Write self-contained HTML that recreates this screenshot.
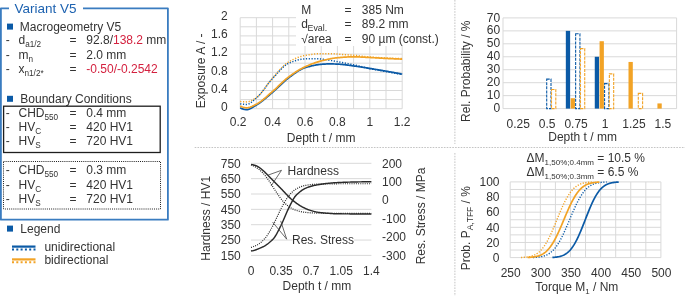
<!DOCTYPE html>
<html><head><meta charset="utf-8"><style>
html,body{margin:0;padding:0;background:#fff;}
body{width:685px;height:296px;overflow:hidden;}
svg{display:block;font-family:"Liberation Sans", sans-serif;will-change:transform;}
text{font-family:"Liberation Sans", sans-serif;}
</style></head><body>
<svg width="685" height="296" viewBox="0 0 685 296">
<path d="M9,8.3 H0.9 V219.7 H167.9 V8.3 H83" fill="none" stroke="#3a7cc0" stroke-width="1.8" stroke-linejoin="round"/>
<text x="14.60" y="12.50" font-size="13.5" text-anchor="start" fill="#1d62b0" >Variant V5</text>
<rect x="7" y="23.6" width="6" height="6" fill="#0b5aa6"/>
<text x="19.80" y="30.50" font-size="12" text-anchor="start" fill="#333333" >Macrogeometry V5</text>
<text x="5.80" y="44.30" font-size="12" text-anchor="start" fill="#333333" >-</text>
<text x="18.5" y="44.3" font-size="12" fill="#333333">d<tspan font-size="8.2" dy="3">a1/2</tspan></text>
<text x="69.50" y="44.30" font-size="12" text-anchor="start" fill="#333333" >=</text>
<text x="86.3" y="44.3" font-size="12" fill="#333333" xml:space="preserve"><tspan fill="#333333">92.8/</tspan><tspan fill="#d4213f">138.2</tspan><tspan fill="#333333"> mm</tspan></text>
<text x="5.80" y="58.50" font-size="12" text-anchor="start" fill="#333333" >-</text>
<text x="18.5" y="58.5" font-size="12" fill="#333333">m<tspan font-size="8.2" dy="3">n</tspan></text>
<text x="69.50" y="58.50" font-size="12" text-anchor="start" fill="#333333" >=</text>
<text x="86.3" y="58.5" font-size="12" fill="#333333" xml:space="preserve"><tspan fill="#333333">2.0 mm</tspan></text>
<text x="5.80" y="73.20" font-size="12" text-anchor="start" fill="#333333" >-</text>
<text x="18.5" y="73.2" font-size="12" fill="#333333">x<tspan font-size="8.2" dy="3">n1/2*</tspan></text>
<text x="69.50" y="73.20" font-size="12" text-anchor="start" fill="#333333" >=</text>
<text x="86.3" y="73.2" font-size="12" fill="#333333" xml:space="preserve"><tspan fill="#d4213f">-0.50/-0.2542</tspan></text>
<rect x="7" y="95.8" width="6" height="6" fill="#0b5aa6"/>
<text x="20.30" y="102.50" font-size="12" text-anchor="start" fill="#333333" >Boundary Conditions</text>
<rect x="3.6" y="106.2" width="156.6" height="46.3" fill="none" stroke="#1e1e1e" stroke-width="1.3"/>
<rect x="3.5" y="161.5" width="157" height="47.5" fill="none" stroke="#1e1e1e" stroke-width="1" stroke-dasharray="1 1.1"/>
<text x="5.80" y="116.60" font-size="12" text-anchor="start" fill="#333333" >-</text>
<text x="18.5" y="116.6" font-size="12" fill="#333333">CHD<tspan font-size="8.2" dy="3">550</tspan></text>
<text x="69.50" y="116.60" font-size="12" text-anchor="start" fill="#333333" >=</text>
<text x="86.30" y="116.60" font-size="12" text-anchor="start" fill="#333333" >0.4 mm</text>
<text x="5.80" y="130.90" font-size="12" text-anchor="start" fill="#333333" >-</text>
<text x="18.5" y="130.9" font-size="12" fill="#333333">HV<tspan font-size="8.2" dy="3">C</tspan></text>
<text x="69.50" y="130.90" font-size="12" text-anchor="start" fill="#333333" >=</text>
<text x="86.30" y="130.90" font-size="12" text-anchor="start" fill="#333333" >420 HV1</text>
<text x="5.80" y="145.30" font-size="12" text-anchor="start" fill="#333333" >-</text>
<text x="18.5" y="145.29999999999998" font-size="12" fill="#333333">HV<tspan font-size="8.2" dy="3">S</tspan></text>
<text x="69.50" y="145.30" font-size="12" text-anchor="start" fill="#333333" >=</text>
<text x="86.30" y="145.30" font-size="12" text-anchor="start" fill="#333333" >720 HV1</text>
<text x="5.80" y="174.30" font-size="12" text-anchor="start" fill="#333333" >-</text>
<text x="18.5" y="174.3" font-size="12" fill="#333333">CHD<tspan font-size="8.2" dy="3">550</tspan></text>
<text x="69.50" y="174.30" font-size="12" text-anchor="start" fill="#333333" >=</text>
<text x="86.30" y="174.30" font-size="12" text-anchor="start" fill="#333333" >0.3 mm</text>
<text x="5.80" y="188.60" font-size="12" text-anchor="start" fill="#333333" >-</text>
<text x="18.5" y="188.60000000000002" font-size="12" fill="#333333">HV<tspan font-size="8.2" dy="3">C</tspan></text>
<text x="69.50" y="188.60" font-size="12" text-anchor="start" fill="#333333" >=</text>
<text x="86.30" y="188.60" font-size="12" text-anchor="start" fill="#333333" >420 HV1</text>
<text x="5.80" y="203.00" font-size="12" text-anchor="start" fill="#333333" >-</text>
<text x="18.5" y="203.0" font-size="12" fill="#333333">HV<tspan font-size="8.2" dy="3">S</tspan></text>
<text x="69.50" y="203.00" font-size="12" text-anchor="start" fill="#333333" >=</text>
<text x="86.30" y="203.00" font-size="12" text-anchor="start" fill="#333333" >720 HV1</text>
<rect x="7" y="225.6" width="6" height="6" fill="#0b5aa6"/>
<text x="20.30" y="232.80" font-size="12" text-anchor="start" fill="#333333" >Legend</text>
<rect x="12" y="245.5" width="23.5" height="2.2" fill="#0b5aa6"/>
<line x1="12" y1="249.5" x2="35.5" y2="249.5" stroke="#0b5aa6" stroke-width="2" stroke-dasharray="2 2.3"/>
<text x="44.40" y="251.10" font-size="12" text-anchor="start" fill="#333333" >unidirectional</text>
<rect x="12" y="258.3" width="23.5" height="2.2" fill="#f2a326"/>
<line x1="12" y1="262.3" x2="35.5" y2="262.3" stroke="#f2a326" stroke-width="2" stroke-dasharray="2 2.3"/>
<text x="44.40" y="263.90" font-size="12" text-anchor="start" fill="#333333" >bidirectional</text>
<line x1="240.20" y1="17.70" x2="240.20" y2="108.70" stroke="#d9d9d9" stroke-width="1"/>
<line x1="256.40" y1="17.70" x2="256.40" y2="108.70" stroke="#d9d9d9" stroke-width="1"/>
<line x1="272.60" y1="17.70" x2="272.60" y2="108.70" stroke="#d9d9d9" stroke-width="1"/>
<line x1="288.80" y1="17.70" x2="288.80" y2="108.70" stroke="#d9d9d9" stroke-width="1"/>
<line x1="305.00" y1="17.70" x2="305.00" y2="108.70" stroke="#d9d9d9" stroke-width="1"/>
<line x1="321.20" y1="17.70" x2="321.20" y2="108.70" stroke="#d9d9d9" stroke-width="1"/>
<line x1="337.40" y1="17.70" x2="337.40" y2="108.70" stroke="#d9d9d9" stroke-width="1"/>
<line x1="353.60" y1="17.70" x2="353.60" y2="108.70" stroke="#d9d9d9" stroke-width="1"/>
<line x1="369.80" y1="17.70" x2="369.80" y2="108.70" stroke="#d9d9d9" stroke-width="1"/>
<line x1="386.00" y1="17.70" x2="386.00" y2="108.70" stroke="#d9d9d9" stroke-width="1"/>
<line x1="402.20" y1="17.70" x2="402.20" y2="108.70" stroke="#d9d9d9" stroke-width="1"/>
<line x1="240.20" y1="108.70" x2="402.20" y2="108.70" stroke="#d9d9d9" stroke-width="1"/>
<line x1="240.20" y1="99.60" x2="402.20" y2="99.60" stroke="#d9d9d9" stroke-width="1"/>
<line x1="240.20" y1="90.50" x2="402.20" y2="90.50" stroke="#d9d9d9" stroke-width="1"/>
<line x1="240.20" y1="81.40" x2="402.20" y2="81.40" stroke="#d9d9d9" stroke-width="1"/>
<line x1="240.20" y1="72.30" x2="402.20" y2="72.30" stroke="#d9d9d9" stroke-width="1"/>
<line x1="240.20" y1="63.20" x2="402.20" y2="63.20" stroke="#d9d9d9" stroke-width="1"/>
<line x1="240.20" y1="54.10" x2="402.20" y2="54.10" stroke="#d9d9d9" stroke-width="1"/>
<line x1="240.20" y1="45.00" x2="402.20" y2="45.00" stroke="#d9d9d9" stroke-width="1"/>
<line x1="240.20" y1="35.90" x2="402.20" y2="35.90" stroke="#d9d9d9" stroke-width="1"/>
<line x1="240.20" y1="26.80" x2="402.20" y2="26.80" stroke="#d9d9d9" stroke-width="1"/>
<line x1="240.20" y1="17.70" x2="402.20" y2="17.70" stroke="#d9d9d9" stroke-width="1"/>
<text x="227.80" y="111.00" font-size="12" text-anchor="end" fill="#333333" >0</text>
<text x="227.80" y="92.80" font-size="12" text-anchor="end" fill="#333333" >0.4</text>
<text x="227.80" y="74.60" font-size="12" text-anchor="end" fill="#333333" >0.8</text>
<text x="227.80" y="56.40" font-size="12" text-anchor="end" fill="#333333" >1.2</text>
<text x="227.80" y="38.20" font-size="12" text-anchor="end" fill="#333333" >1.6</text>
<text x="227.80" y="20.00" font-size="12" text-anchor="end" fill="#333333" >2</text>
<text x="238.20" y="125.60" font-size="12" text-anchor="middle" fill="#333333" >0.2</text>
<text x="272.60" y="125.60" font-size="12" text-anchor="middle" fill="#333333" >0.4</text>
<text x="305.00" y="125.60" font-size="12" text-anchor="middle" fill="#333333" >0.6</text>
<text x="337.40" y="125.60" font-size="12" text-anchor="middle" fill="#333333" >0.8</text>
<text x="369.80" y="125.60" font-size="12" text-anchor="middle" fill="#333333" >1</text>
<text x="402.20" y="125.60" font-size="12" text-anchor="middle" fill="#333333" >1.2</text>
<text x="321.20" y="142.00" font-size="12" text-anchor="middle" fill="#333333" >Depth t / mm</text>
<text transform="translate(205.1,70.8) rotate(-90)" font-size="12" text-anchor="middle" fill="#333333">Exposure A / -</text>
<path d="M240.20,101.42 L241.01,101.57 L241.82,101.68 L242.63,101.76 L243.44,101.82 L244.25,101.85 L245.06,101.87 L245.87,101.87 L246.68,101.88 L247.49,101.83 L248.30,101.70 L249.11,101.48 L249.92,101.21 L250.73,100.87 L251.54,100.47 L252.35,100.04 L253.16,99.57 L253.97,99.08 L254.78,98.58 L255.59,98.06 L256.40,97.55 L257.21,97.00 L258.02,96.34 L258.83,95.60 L259.64,94.79 L260.45,93.90 L261.26,92.95 L262.07,91.95 L262.88,90.90 L263.69,89.82 L264.50,88.71 L265.31,87.59 L266.12,86.45 L266.93,85.31 L267.74,84.18 L268.55,83.06 L269.36,81.96 L270.17,80.90 L270.98,79.88 L271.79,78.90 L272.60,77.99 L273.41,77.09 L274.22,76.18 L275.03,75.26 L275.84,74.33 L276.65,73.40 L277.46,72.47 L278.27,71.55 L279.08,70.63 L279.89,69.73 L280.70,68.84 L281.51,67.98 L282.32,67.14 L283.13,66.33 L283.94,65.55 L284.75,64.81 L285.56,64.12 L286.37,63.47 L287.18,62.87 L287.99,62.32 L288.80,61.84 L289.61,61.38 L290.42,60.94 L291.23,60.51 L292.04,60.09 L292.85,59.69 L293.66,59.29 L294.47,58.91 L295.28,58.55 L296.09,58.20 L296.90,57.86 L297.71,57.54 L298.52,57.24 L299.33,56.95 L300.14,56.68 L300.95,56.43 L301.76,56.20 L302.57,55.98 L303.38,55.79 L304.19,55.62 L305.00,55.47 L305.81,55.32 L306.62,55.18 L307.43,55.05 L308.24,54.91 L309.05,54.78 L309.86,54.66 L310.67,54.53 L311.48,54.42 L312.29,54.31 L313.10,54.20 L313.91,54.10 L314.72,54.01 L315.53,53.93 L316.34,53.86 L317.15,53.80 L317.96,53.74 L318.77,53.70 L319.58,53.67 L320.39,53.65 L321.20,53.65 L322.01,53.65 L322.82,53.65 L323.63,53.65 L324.44,53.65 L325.25,53.65 L326.06,53.65 L326.87,53.65 L327.68,53.65 L328.49,53.65 L329.30,53.65 L330.11,53.65 L330.92,53.67 L331.73,53.70 L332.54,53.74 L333.35,53.78 L334.16,53.83 L334.97,53.89 L335.78,53.95 L336.59,54.02 L337.40,54.08 L338.21,54.15 L339.02,54.21 L339.83,54.27 L340.64,54.33 L341.45,54.38 L342.26,54.44 L343.07,54.50 L343.88,54.55 L344.69,54.61 L345.50,54.67 L346.31,54.73 L347.12,54.79 L347.93,54.85 L348.74,54.92 L349.55,54.98 L350.36,55.05 L351.17,55.11 L351.98,55.18 L352.79,55.25 L353.60,55.32 L354.41,55.39 L355.22,55.47 L356.03,55.54 L356.84,55.62 L357.65,55.71 L358.46,55.80 L359.27,55.90 L360.08,55.99 L360.89,56.09 L361.70,56.19 L362.51,56.29 L363.32,56.39 L364.13,56.49 L364.94,56.58 L365.75,56.67 L366.56,56.76 L367.37,56.84 L368.18,56.92 L368.99,56.99 L369.80,57.06 L370.61,57.12 L371.42,57.17 L372.23,57.23 L373.04,57.28 L373.85,57.33 L374.66,57.38 L375.47,57.43 L376.28,57.48 L377.09,57.52 L377.90,57.57 L378.71,57.61 L379.52,57.65 L380.33,57.69 L381.14,57.73 L381.95,57.77 L382.76,57.81 L383.57,57.85 L384.38,57.89 L385.19,57.93 L386.00,57.97 L386.81,58.01 L387.62,58.04 L388.43,58.08 L389.24,58.12 L390.05,58.16 L390.86,58.19 L391.67,58.23 L392.48,58.27 L393.29,58.30 L394.10,58.34 L394.91,58.37 L395.72,58.40 L396.53,58.44 L397.34,58.47 L398.15,58.50 L398.96,58.53 L399.77,58.56 L400.58,58.59 L401.39,58.62 L402.20,58.65" fill="none" stroke="#f2a326" stroke-width="1.5" stroke-dasharray="1.2 1.6"/>
<path d="M240.20,103.70 L241.01,103.92 L241.82,104.09 L242.63,104.21 L243.44,104.29 L244.25,104.34 L245.06,104.37 L245.87,104.38 L246.68,104.38 L247.49,104.30 L248.30,104.09 L249.11,103.76 L249.92,103.32 L250.73,102.80 L251.54,102.20 L252.35,101.55 L253.16,100.85 L253.97,100.14 L254.78,99.41 L255.59,98.70 L256.40,98.01 L257.21,97.30 L258.02,96.53 L258.83,95.69 L259.64,94.80 L260.45,93.86 L261.26,92.89 L262.07,91.87 L262.88,90.83 L263.69,89.77 L264.50,88.69 L265.31,87.60 L266.12,86.51 L266.93,85.42 L267.74,84.34 L268.55,83.28 L269.36,82.24 L270.17,81.23 L270.98,80.26 L271.79,79.33 L272.60,78.44 L273.41,77.57 L274.22,76.69 L275.03,75.79 L275.84,74.88 L276.65,73.97 L277.46,73.06 L278.27,72.15 L279.08,71.26 L279.89,70.38 L280.70,69.52 L281.51,68.69 L282.32,67.89 L283.13,67.13 L283.94,66.40 L284.75,65.73 L285.56,65.10 L286.37,64.53 L287.18,64.02 L287.99,63.57 L288.80,63.20 L289.61,62.87 L290.42,62.54 L291.23,62.22 L292.04,61.91 L292.85,61.60 L293.66,61.31 L294.47,61.03 L295.28,60.76 L296.09,60.51 L296.90,60.27 L297.71,60.04 L298.52,59.84 L299.33,59.64 L300.14,59.47 L300.95,59.32 L301.76,59.19 L302.57,59.07 L303.38,58.98 L304.19,58.92 L305.00,58.88 L305.81,58.85 L306.62,58.82 L307.43,58.80 L308.24,58.77 L309.05,58.75 L309.86,58.73 L310.67,58.71 L311.48,58.70 L312.29,58.68 L313.10,58.67 L313.91,58.66 L314.72,58.66 L315.53,58.65 L316.34,58.65 L317.15,58.66 L317.96,58.69 L318.77,58.74 L319.58,58.81 L320.39,58.89 L321.20,58.99 L322.01,59.09 L322.82,59.21 L323.63,59.33 L324.44,59.46 L325.25,59.59 L326.06,59.73 L326.87,59.86 L327.68,59.99 L328.49,60.12 L329.30,60.24 L330.11,60.36 L330.92,60.49 L331.73,60.62 L332.54,60.75 L333.35,60.89 L334.16,61.03 L334.97,61.17 L335.78,61.32 L336.59,61.47 L337.40,61.62 L338.21,61.77 L339.02,61.93 L339.83,62.09 L340.64,62.24 L341.45,62.40 L342.26,62.56 L343.07,62.72 L343.88,62.88 L344.69,63.04 L345.50,63.20 L346.31,63.36 L347.12,63.52 L347.93,63.68 L348.74,63.84 L349.55,64.00 L350.36,64.17 L351.17,64.33 L351.98,64.50 L352.79,64.66 L353.60,64.83 L354.41,65.00 L355.22,65.17 L356.03,65.35 L356.84,65.52 L357.65,65.70 L358.46,65.88 L359.27,66.06 L360.08,66.24 L360.89,66.43 L361.70,66.61 L362.51,66.81 L363.32,67.01 L364.13,67.22 L364.94,67.44 L365.75,67.65 L366.56,67.87 L367.37,68.08 L368.18,68.28 L368.99,68.48 L369.80,68.66 L370.61,68.83 L371.42,69.00 L372.23,69.16 L373.04,69.32 L373.85,69.48 L374.66,69.63 L375.47,69.77 L376.28,69.92 L377.09,70.06 L377.90,70.21 L378.71,70.35 L379.52,70.49 L380.33,70.63 L381.14,70.76 L381.95,70.90 L382.76,71.04 L383.57,71.18 L384.38,71.33 L385.19,71.47 L386.00,71.62 L386.81,71.77 L387.62,71.91 L388.43,72.06 L389.24,72.21 L390.05,72.36 L390.86,72.50 L391.67,72.65 L392.48,72.80 L393.29,72.95 L394.10,73.10 L394.91,73.24 L395.72,73.39 L396.53,73.54 L397.34,73.69 L398.15,73.84 L398.96,73.98 L399.77,74.13 L400.58,74.28 L401.39,74.43 L402.20,74.58" fill="none" stroke="#0b5aa6" stroke-width="1.5" stroke-dasharray="1.2 1.6"/>
<path d="M240.20,107.79 L241.01,108.23 L241.82,108.60 L242.63,108.92 L243.44,109.17 L244.25,109.36 L245.06,109.50 L245.87,109.58 L246.68,109.61 L247.49,109.56 L248.30,109.40 L249.11,109.16 L249.92,108.84 L250.73,108.46 L251.54,108.03 L252.35,107.56 L253.16,107.07 L253.97,106.56 L254.78,106.04 L255.59,105.54 L256.40,105.06 L257.21,104.58 L258.02,104.07 L258.83,103.54 L259.64,102.98 L260.45,102.40 L261.26,101.80 L262.07,101.18 L262.88,100.54 L263.69,99.89 L264.50,99.22 L265.31,98.55 L266.12,97.87 L266.93,97.18 L267.74,96.48 L268.55,95.79 L269.36,95.09 L270.17,94.39 L270.98,93.69 L271.79,93.00 L272.60,92.32 L273.41,91.63 L274.22,90.92 L275.03,90.19 L275.84,89.45 L276.65,88.69 L277.46,87.92 L278.27,87.15 L279.08,86.38 L279.89,85.60 L280.70,84.82 L281.51,84.05 L282.32,83.29 L283.13,82.53 L283.94,81.79 L284.75,81.07 L285.56,80.36 L286.37,79.67 L287.18,79.01 L287.99,78.37 L288.80,77.76 L289.61,77.16 L290.42,76.56 L291.23,75.96 L292.04,75.36 L292.85,74.77 L293.66,74.17 L294.47,73.59 L295.28,73.02 L296.09,72.46 L296.90,71.91 L297.71,71.38 L298.52,70.87 L299.33,70.38 L300.14,69.91 L300.95,69.47 L301.76,69.06 L302.57,68.68 L303.38,68.34 L304.19,68.02 L305.00,67.75 L305.81,67.50 L306.62,67.25 L307.43,67.02 L308.24,66.79 L309.05,66.56 L309.86,66.35 L310.67,66.14 L311.48,65.95 L312.29,65.76 L313.10,65.58 L313.91,65.41 L314.72,65.24 L315.53,65.09 L316.34,64.95 L317.15,64.82 L317.96,64.70 L318.77,64.59 L319.58,64.50 L320.39,64.41 L321.20,64.34 L322.01,64.27 L322.82,64.20 L323.63,64.14 L324.44,64.08 L325.25,64.03 L326.06,63.98 L326.87,63.94 L327.68,63.91 L328.49,63.89 L329.30,63.88 L330.11,63.89 L330.92,63.90 L331.73,63.91 L332.54,63.93 L333.35,63.95 L334.16,63.98 L334.97,64.01 L335.78,64.04 L336.59,64.08 L337.40,64.11 L338.21,64.15 L339.02,64.20 L339.83,64.25 L340.64,64.32 L341.45,64.39 L342.26,64.47 L343.07,64.56 L343.88,64.65 L344.69,64.74 L345.50,64.84 L346.31,64.95 L347.12,65.05 L347.93,65.16 L348.74,65.27 L349.55,65.38 L350.36,65.49 L351.17,65.60 L351.98,65.71 L352.79,65.82 L353.60,65.93 L354.41,66.04 L355.22,66.15 L356.03,66.26 L356.84,66.38 L357.65,66.49 L358.46,66.62 L359.27,66.74 L360.08,66.86 L360.89,66.99 L361.70,67.12 L362.51,67.25 L363.32,67.38 L364.13,67.51 L364.94,67.64 L365.75,67.77 L366.56,67.91 L367.37,68.04 L368.18,68.17 L368.99,68.30 L369.80,68.43 L370.61,68.56 L371.42,68.69 L372.23,68.83 L373.04,68.96 L373.85,69.09 L374.66,69.23 L375.47,69.36 L376.28,69.50 L377.09,69.63 L377.90,69.77 L378.71,69.91 L379.52,70.04 L380.33,70.18 L381.14,70.32 L381.95,70.46 L382.76,70.60 L383.57,70.74 L384.38,70.88 L385.19,71.02 L386.00,71.16 L386.81,71.30 L387.62,71.45 L388.43,71.59 L389.24,71.74 L390.05,71.88 L390.86,72.03 L391.67,72.17 L392.48,72.32 L393.29,72.46 L394.10,72.61 L394.91,72.76 L395.72,72.91 L396.53,73.06 L397.34,73.21 L398.15,73.36 L398.96,73.51 L399.77,73.66 L400.58,73.81 L401.39,73.97 L402.20,74.12" fill="none" stroke="#0b5aa6" stroke-width="1.7"/>
<path d="M240.20,105.97 L241.01,106.38 L241.82,106.75 L242.63,107.06 L243.44,107.32 L244.25,107.52 L245.06,107.67 L245.87,107.76 L246.68,107.79 L247.49,107.75 L248.30,107.63 L249.11,107.45 L249.92,107.20 L250.73,106.91 L251.54,106.57 L252.35,106.20 L253.16,105.80 L253.97,105.39 L254.78,104.97 L255.59,104.56 L256.40,104.15 L257.21,103.73 L258.02,103.27 L258.83,102.77 L259.64,102.24 L260.45,101.67 L261.26,101.08 L262.07,100.46 L262.88,99.82 L263.69,99.16 L264.50,98.48 L265.31,97.79 L266.12,97.08 L266.93,96.37 L267.74,95.66 L268.55,94.94 L269.36,94.22 L270.17,93.50 L270.98,92.80 L271.79,92.10 L272.60,91.41 L273.41,90.72 L274.22,90.01 L275.03,89.28 L275.84,88.54 L276.65,87.78 L277.46,87.01 L278.27,86.24 L279.08,85.47 L279.89,84.69 L280.70,83.91 L281.51,83.14 L282.32,82.38 L283.13,81.62 L283.94,80.88 L284.75,80.16 L285.56,79.45 L286.37,78.76 L287.18,78.10 L287.99,77.46 L288.80,76.85 L289.61,76.26 L290.42,75.68 L291.23,75.10 L292.04,74.53 L292.85,73.97 L293.66,73.41 L294.47,72.87 L295.28,72.33 L296.09,71.81 L296.90,71.29 L297.71,70.79 L298.52,70.30 L299.33,69.82 L300.14,69.35 L300.95,68.89 L301.76,68.45 L302.57,68.03 L303.38,67.62 L304.19,67.22 L305.00,66.84 L305.81,66.47 L306.62,66.11 L307.43,65.75 L308.24,65.41 L309.05,65.06 L309.86,64.73 L310.67,64.40 L311.48,64.08 L312.29,63.77 L313.10,63.47 L313.91,63.18 L314.72,62.89 L315.53,62.61 L316.34,62.34 L317.15,62.08 L317.96,61.83 L318.77,61.59 L319.58,61.36 L320.39,61.14 L321.20,60.93 L322.01,60.72 L322.82,60.51 L323.63,60.31 L324.44,60.11 L325.25,59.91 L326.06,59.72 L326.87,59.53 L327.68,59.34 L328.49,59.16 L329.30,58.99 L330.11,58.83 L330.92,58.67 L331.73,58.52 L332.54,58.38 L333.35,58.24 L334.16,58.12 L334.97,58.01 L335.78,57.91 L336.59,57.82 L337.40,57.74 L338.21,57.67 L339.02,57.60 L339.83,57.53 L340.64,57.46 L341.45,57.40 L342.26,57.34 L343.07,57.27 L343.88,57.22 L344.69,57.16 L345.50,57.11 L346.31,57.06 L347.12,57.01 L347.93,56.97 L348.74,56.94 L349.55,56.91 L350.36,56.88 L351.17,56.86 L351.98,56.84 L352.79,56.83 L353.60,56.83 L354.41,56.83 L355.22,56.84 L356.03,56.86 L356.84,56.88 L357.65,56.90 L358.46,56.93 L359.27,56.96 L360.08,57.00 L360.89,57.03 L361.70,57.07 L362.51,57.12 L363.32,57.16 L364.13,57.20 L364.94,57.25 L365.75,57.30 L366.56,57.34 L367.37,57.39 L368.18,57.43 L368.99,57.47 L369.80,57.51 L370.61,57.55 L371.42,57.59 L372.23,57.64 L373.04,57.68 L373.85,57.73 L374.66,57.77 L375.47,57.82 L376.28,57.87 L377.09,57.92 L377.90,57.97 L378.71,58.02 L379.52,58.06 L380.33,58.11 L381.14,58.16 L381.95,58.21 L382.76,58.25 L383.57,58.30 L384.38,58.34 L385.19,58.38 L386.00,58.42 L386.81,58.46 L387.62,58.50 L388.43,58.54 L389.24,58.58 L390.05,58.61 L390.86,58.65 L391.67,58.68 L392.48,58.72 L393.29,58.76 L394.10,58.79 L394.91,58.82 L395.72,58.86 L396.53,58.89 L397.34,58.92 L398.15,58.95 L398.96,58.99 L399.77,59.02 L400.58,59.05 L401.39,59.08 L402.20,59.10" fill="none" stroke="#f2a326" stroke-width="1.7"/>
<rect x="296" y="0" width="140" height="46" fill="#fff"/>
<text x="301.20" y="14.00" font-size="12" text-anchor="start" fill="#333333" >M</text>
<text x="301.2" y="28.2" font-size="12" fill="#333333">d<tspan font-size="8.8" dy="3" dx="-0.3">Eval.</tspan></text>
<text x="301.20" y="42.50" font-size="12" text-anchor="start" fill="#333333" >√area</text>
<text x="344.60" y="14.00" font-size="12" text-anchor="start" fill="#333333" >=</text>
<text x="344.60" y="28.20" font-size="12" text-anchor="start" fill="#333333" >=</text>
<text x="344.60" y="42.50" font-size="12" text-anchor="start" fill="#333333" >=</text>
<text x="361.80" y="14.00" font-size="12" text-anchor="start" fill="#333333" >385 Nm</text>
<text x="361.80" y="28.20" font-size="12" text-anchor="start" fill="#333333" >89.2 mm</text>
<text x="361.80" y="42.50" font-size="12" text-anchor="start" fill="#333333" >90 µm (const.)</text>
<line x1="503.0" y1="108.60" x2="676.6" y2="108.60" stroke="#d9d9d9" stroke-width="1"/>
<text x="500.20" y="112.20" font-size="12" text-anchor="end" fill="#333333" >0</text>
<line x1="503.0" y1="95.64" x2="676.6" y2="95.64" stroke="#d9d9d9" stroke-width="1"/>
<text x="500.20" y="99.24" font-size="12" text-anchor="end" fill="#333333" >10</text>
<line x1="503.0" y1="82.69" x2="676.6" y2="82.69" stroke="#d9d9d9" stroke-width="1"/>
<text x="500.20" y="86.29" font-size="12" text-anchor="end" fill="#333333" >20</text>
<line x1="503.0" y1="69.73" x2="676.6" y2="69.73" stroke="#d9d9d9" stroke-width="1"/>
<text x="500.20" y="73.33" font-size="12" text-anchor="end" fill="#333333" >30</text>
<line x1="503.0" y1="56.77" x2="676.6" y2="56.77" stroke="#d9d9d9" stroke-width="1"/>
<text x="500.20" y="60.37" font-size="12" text-anchor="end" fill="#333333" >40</text>
<line x1="503.0" y1="43.81" x2="676.6" y2="43.81" stroke="#d9d9d9" stroke-width="1"/>
<text x="500.20" y="47.41" font-size="12" text-anchor="end" fill="#333333" >50</text>
<line x1="503.0" y1="30.86" x2="676.6" y2="30.86" stroke="#d9d9d9" stroke-width="1"/>
<text x="500.20" y="34.46" font-size="12" text-anchor="end" fill="#333333" >60</text>
<line x1="503.0" y1="17.90" x2="676.6" y2="17.90" stroke="#d9d9d9" stroke-width="1"/>
<text x="500.20" y="21.50" font-size="12" text-anchor="end" fill="#333333" >70</text>
<line x1="503.0" y1="17.90" x2="503.0" y2="108.60" stroke="#d9d9d9" stroke-width="1"/>
<line x1="676.6" y1="17.90" x2="676.6" y2="108.60" stroke="#d9d9d9" stroke-width="1"/>
<text x="518.27" y="127.60" font-size="12" text-anchor="middle" fill="#333333" >0.25</text>
<text x="547.20" y="127.60" font-size="12" text-anchor="middle" fill="#333333" >0.5</text>
<rect x="546.70" y="79.10" width="4.3" height="29.50" fill="#fff" stroke="#0b5aa6" stroke-width="1.1" stroke-dasharray="3 1.1"/>
<rect x="551.50" y="89.46" width="4.3" height="19.14" fill="#fff" stroke="#f2a326" stroke-width="1.1" stroke-dasharray="3 1.1"/>
<text x="576.13" y="127.60" font-size="12" text-anchor="middle" fill="#333333" >0.75</text>
<rect x="565.83" y="30.86" width="4.3" height="77.74" fill="#0b5aa6"/>
<rect x="570.63" y="98.23" width="4.3" height="10.37" fill="#f2a326"/>
<rect x="575.63" y="33.75" width="4.3" height="74.85" fill="#fff" stroke="#0b5aa6" stroke-width="1.1" stroke-dasharray="3 1.1"/>
<rect x="580.43" y="48.65" width="4.3" height="59.95" fill="#fff" stroke="#f2a326" stroke-width="1.1" stroke-dasharray="3 1.1"/>
<text x="605.07" y="127.60" font-size="12" text-anchor="middle" fill="#333333" >1</text>
<rect x="594.77" y="56.77" width="4.3" height="51.83" fill="#0b5aa6"/>
<rect x="599.57" y="41.22" width="4.3" height="67.38" fill="#f2a326"/>
<rect x="604.57" y="83.63" width="4.3" height="24.97" fill="#fff" stroke="#0b5aa6" stroke-width="1.1" stroke-dasharray="3 1.1"/>
<rect x="609.37" y="73.92" width="4.3" height="34.68" fill="#fff" stroke="#f2a326" stroke-width="1.1" stroke-dasharray="3 1.1"/>
<text x="634.00" y="127.60" font-size="12" text-anchor="middle" fill="#333333" >1.25</text>
<rect x="628.50" y="61.95" width="4.3" height="46.65" fill="#f2a326"/>
<rect x="638.30" y="93.35" width="4.3" height="15.25" fill="#fff" stroke="#f2a326" stroke-width="1.1" stroke-dasharray="3 1.1"/>
<text x="662.93" y="127.60" font-size="12" text-anchor="middle" fill="#333333" >1.5</text>
<rect x="657.43" y="103.42" width="4.3" height="5.18" fill="#f2a326"/>
<text x="582.60" y="140.90" font-size="12" text-anchor="middle" fill="#333333" >Depth t / mm</text>
<text transform="translate(470.2,71.2) rotate(-90)" font-size="12" text-anchor="middle" fill="#333333">Rel. Probability / %</text>
<line x1="251.0" y1="255.40" x2="371.4" y2="255.40" stroke="#d9d9d9" stroke-width="1"/>
<text x="240.80" y="259.70" font-size="12" text-anchor="end" fill="#333333" >150</text>
<line x1="251.0" y1="240.05" x2="371.4" y2="240.05" stroke="#d9d9d9" stroke-width="1"/>
<text x="240.80" y="244.35" font-size="12" text-anchor="end" fill="#333333" >250</text>
<line x1="251.0" y1="224.70" x2="371.4" y2="224.70" stroke="#d9d9d9" stroke-width="1"/>
<text x="240.80" y="229.00" font-size="12" text-anchor="end" fill="#333333" >350</text>
<line x1="251.0" y1="209.35" x2="371.4" y2="209.35" stroke="#d9d9d9" stroke-width="1"/>
<text x="240.80" y="213.65" font-size="12" text-anchor="end" fill="#333333" >450</text>
<line x1="251.0" y1="194.00" x2="371.4" y2="194.00" stroke="#d9d9d9" stroke-width="1"/>
<text x="240.80" y="198.30" font-size="12" text-anchor="end" fill="#333333" >550</text>
<line x1="251.0" y1="178.65" x2="371.4" y2="178.65" stroke="#d9d9d9" stroke-width="1"/>
<text x="240.80" y="182.95" font-size="12" text-anchor="end" fill="#333333" >650</text>
<line x1="251.0" y1="163.30" x2="371.4" y2="163.30" stroke="#d9d9d9" stroke-width="1"/>
<text x="240.80" y="167.60" font-size="12" text-anchor="end" fill="#333333" >750</text>
<text x="382.00" y="167.60" font-size="12" text-anchor="start" fill="#333333" >200</text>
<text x="382.00" y="186.02" font-size="12" text-anchor="start" fill="#333333" >100</text>
<text x="382.00" y="204.44" font-size="12" text-anchor="start" fill="#333333" >0</text>
<text x="382.00" y="222.86" font-size="12" text-anchor="start" fill="#333333" >-100</text>
<text x="382.00" y="241.28" font-size="12" text-anchor="start" fill="#333333" >-200</text>
<text x="382.00" y="259.70" font-size="12" text-anchor="start" fill="#333333" >-300</text>
<text x="251.00" y="274.80" font-size="12" text-anchor="middle" fill="#333333" >0</text>
<text x="281.10" y="274.80" font-size="12" text-anchor="middle" fill="#333333" >0.35</text>
<text x="311.20" y="274.80" font-size="12" text-anchor="middle" fill="#333333" >0.7</text>
<text x="341.30" y="274.80" font-size="12" text-anchor="middle" fill="#333333" >1.05</text>
<text x="371.40" y="274.80" font-size="12" text-anchor="middle" fill="#333333" >1.4</text>
<text x="316.90" y="289.60" font-size="12" text-anchor="middle" fill="#333333" >Depth t / mm</text>
<text transform="translate(209.6,218.3) rotate(-90)" font-size="12" text-anchor="middle" fill="#333333">Hardness / HV1</text>
<text transform="translate(425.3,216) rotate(-90)" font-size="12" text-anchor="middle" fill="#333333">Res. Stress / MPa</text>
<path d="M251.00,164.90 L251.86,165.23 L252.72,165.58 L253.58,165.97 L254.44,166.40 L255.30,166.86 L256.16,167.37 L257.02,167.91 L257.88,168.51 L258.74,169.15 L259.60,169.84 L260.46,170.58 L261.32,171.38 L262.18,172.23 L263.04,173.13 L263.90,174.09 L264.76,175.11 L265.62,176.18 L266.48,177.29 L267.34,178.46 L268.20,179.67 L269.06,180.92 L269.92,182.20 L270.78,183.51 L271.64,184.85 L272.50,186.20 L273.36,187.55 L274.22,188.91 L275.08,190.26 L275.94,191.59 L276.80,192.90 L277.66,194.19 L278.52,195.44 L279.38,196.65 L280.24,197.81 L281.10,198.93 L281.96,200.00 L282.82,201.01 L283.68,201.97 L284.54,202.88 L285.40,203.73 L286.26,204.52 L287.12,205.27 L287.98,205.96 L288.84,206.60 L289.70,207.19 L290.56,207.74 L291.42,208.24 L292.28,208.71 L293.14,209.13 L294.00,209.52 L294.86,209.88 L295.72,210.20 L296.58,210.50 L297.44,210.77 L298.30,211.01 L299.16,211.24 L300.02,211.44 L300.88,211.62 L301.74,211.79 L302.60,211.94 L303.46,212.08 L304.32,212.20 L305.18,212.31 L306.04,212.41 L306.90,212.50 L307.76,212.59 L308.62,212.66 L309.48,212.73 L310.34,212.79 L311.20,212.84 L312.06,212.89 L312.92,212.94 L313.78,212.98 L314.64,213.01 L315.50,213.05 L316.36,213.08 L317.22,213.10 L318.08,213.13 L318.94,213.15 L319.80,213.17 L320.66,213.18 L321.52,213.20 L322.38,213.21 L323.24,213.23 L324.10,213.24 L324.96,213.25 L325.82,213.26 L326.68,213.27 L327.54,213.27 L328.40,213.28 L329.26,213.29 L330.12,213.29 L330.98,213.30 L331.84,213.30 L332.70,213.30 L333.56,213.31 L334.42,213.31 L335.28,213.31 L336.14,213.32 L337.00,213.32 L337.86,213.32 L338.72,213.32 L339.58,213.33 L340.44,213.33 L341.30,213.33 L342.16,213.33 L343.02,213.33 L343.88,213.33 L344.74,213.33 L345.60,213.33 L346.46,213.33 L347.32,213.33 L348.18,213.34 L349.04,213.34 L349.90,213.34 L350.76,213.34 L351.62,213.34 L352.48,213.34 L353.34,213.34 L354.20,213.34 L355.06,213.34 L355.92,213.34 L356.78,213.34 L357.64,213.34 L358.50,213.34 L359.36,213.34 L360.22,213.34 L361.08,213.34 L361.94,213.34 L362.80,213.34 L363.66,213.34 L364.52,213.34 L365.38,213.34 L366.24,213.34 L367.10,213.34 L367.96,213.34 L368.82,213.34 L369.68,213.34 L370.54,213.34 L371.40,213.34" fill="none" stroke="#222" stroke-width="1.2" stroke-dasharray="1 1.2"/>
<path d="M251.00,247.36 L251.86,247.12 L252.72,246.85 L253.58,246.55 L254.44,246.22 L255.30,245.85 L256.16,245.45 L257.02,245.01 L257.88,244.52 L258.74,243.98 L259.60,243.39 L260.46,242.75 L261.32,242.04 L262.18,241.28 L263.04,240.44 L263.90,239.54 L264.76,238.56 L265.62,237.51 L266.48,236.38 L267.34,235.17 L268.20,233.89 L269.06,232.53 L269.92,231.09 L270.78,229.58 L271.64,228.01 L272.50,226.37 L273.36,224.68 L274.22,222.94 L275.08,221.16 L275.94,219.36 L276.80,217.54 L277.66,215.71 L278.52,213.89 L279.38,212.09 L280.24,210.31 L281.10,208.57 L281.96,206.88 L282.82,205.24 L283.68,203.67 L284.54,202.16 L285.40,200.72 L286.26,199.36 L287.12,198.08 L287.98,196.87 L288.84,195.74 L289.70,194.69 L290.56,193.71 L291.42,192.81 L292.28,191.98 L293.14,191.21 L294.00,190.51 L294.86,189.86 L295.72,189.27 L296.58,188.73 L297.44,188.25 L298.30,187.80 L299.16,187.40 L300.02,187.03 L300.88,186.70 L301.74,186.41 L302.60,186.14 L303.46,185.89 L304.32,185.67 L305.18,185.48 L306.04,185.30 L306.90,185.14 L307.76,185.00 L308.62,184.87 L309.48,184.75 L310.34,184.65 L311.20,184.55 L312.06,184.47 L312.92,184.39 L313.78,184.33 L314.64,184.27 L315.50,184.21 L316.36,184.16 L317.22,184.12 L318.08,184.08 L318.94,184.05 L319.80,184.01 L320.66,183.99 L321.52,183.96 L322.38,183.94 L323.24,183.92 L324.10,183.90 L324.96,183.88 L325.82,183.87 L326.68,183.86 L327.54,183.84 L328.40,183.83 L329.26,183.83 L330.12,183.82 L330.98,183.81 L331.84,183.80 L332.70,183.80 L333.56,183.79 L334.42,183.79 L335.28,183.78 L336.14,183.78 L337.00,183.78 L337.86,183.77 L338.72,183.77 L339.58,183.77 L340.44,183.76 L341.30,183.76 L342.16,183.76 L343.02,183.76 L343.88,183.76 L344.74,183.76 L345.60,183.76 L346.46,183.75 L347.32,183.75 L348.18,183.75 L349.04,183.75 L349.90,183.75 L350.76,183.75 L351.62,183.75 L352.48,183.75 L353.34,183.75 L354.20,183.75 L355.06,183.75 L355.92,183.75 L356.78,183.75 L357.64,183.75 L358.50,183.75 L359.36,183.75 L360.22,183.75 L361.08,183.75 L361.94,183.75 L362.80,183.75 L363.66,183.75 L364.52,183.75 L365.38,183.75 L366.24,183.75 L367.10,183.75 L367.96,183.75 L368.82,183.75 L369.68,183.75 L370.54,183.75 L371.40,183.75" fill="none" stroke="#222" stroke-width="1.2" stroke-dasharray="1 1.2"/>
<path d="M251.00,164.53 L251.86,164.60 L252.72,164.75 L253.58,164.95 L254.44,165.20 L255.30,165.48 L256.16,165.78 L257.02,166.12 L257.88,166.56 L258.74,167.10 L259.60,167.71 L260.46,168.37 L261.32,169.05 L262.18,169.73 L263.04,170.46 L263.90,171.25 L264.76,172.09 L265.62,172.95 L266.48,173.84 L267.34,174.72 L268.20,175.58 L269.06,176.43 L269.92,177.29 L270.78,178.16 L271.64,179.03 L272.50,179.91 L273.36,180.79 L274.22,181.67 L275.08,182.55 L275.94,183.44 L276.80,184.32 L277.66,185.20 L278.52,186.07 L279.38,186.95 L280.24,187.81 L281.10,188.69 L281.96,189.59 L282.82,190.50 L283.68,191.41 L284.54,192.32 L285.40,193.24 L286.26,194.15 L287.12,195.04 L287.98,195.93 L288.84,196.79 L289.70,197.63 L290.56,198.45 L291.42,199.23 L292.28,199.98 L293.14,200.69 L294.00,201.36 L294.86,202.02 L295.72,202.66 L296.58,203.29 L297.44,203.89 L298.30,204.48 L299.16,205.04 L300.02,205.58 L300.88,206.09 L301.74,206.58 L302.60,207.05 L303.46,207.49 L304.32,207.92 L305.18,208.34 L306.04,208.74 L306.90,209.11 L307.76,209.47 L308.62,209.80 L309.48,210.10 L310.34,210.38 L311.20,210.64 L312.06,210.90 L312.92,211.14 L313.78,211.37 L314.64,211.59 L315.50,211.79 L316.36,211.97 L317.22,212.13 L318.08,212.27 L318.94,212.39 L319.80,212.51 L320.66,212.62 L321.52,212.72 L322.38,212.82 L323.24,212.91 L324.10,212.99 L324.96,213.07 L325.82,213.14 L326.68,213.21 L327.54,213.28 L328.40,213.34 L329.26,213.40 L330.12,213.46 L330.98,213.52 L331.84,213.58 L332.70,213.64 L333.56,213.68 L334.42,213.73 L335.28,213.76 L336.14,213.79 L337.00,213.80 L337.86,213.81 L338.72,213.82 L339.58,213.83 L340.44,213.83 L341.30,213.84 L342.16,213.85 L343.02,213.85 L343.88,213.86 L344.74,213.87 L345.60,213.87 L346.46,213.88 L347.32,213.88 L348.18,213.89 L349.04,213.90 L349.90,213.90 L350.76,213.90 L351.62,213.91 L352.48,213.91 L353.34,213.92 L354.20,213.92 L355.06,213.92 L355.92,213.93 L356.78,213.93 L357.64,213.93 L358.50,213.94 L359.36,213.94 L360.22,213.94 L361.08,213.94 L361.94,213.95 L362.80,213.95 L363.66,213.95 L364.52,213.95 L365.38,213.95 L366.24,213.95 L367.10,213.95 L367.96,213.95 L368.82,213.95 L369.68,213.95 L370.54,213.95 L371.40,213.96" fill="none" stroke="#2a2a2a" stroke-width="1.45"/>
<path d="M251.00,250.98 L251.86,250.84 L252.72,250.67 L253.58,250.47 L254.44,250.24 L255.30,249.98 L256.16,249.69 L257.02,249.38 L257.88,249.05 L258.74,248.69 L259.60,248.33 L260.46,247.95 L261.32,247.55 L262.18,247.15 L263.04,246.73 L263.90,246.28 L264.76,245.79 L265.62,245.27 L266.48,244.71 L267.34,244.11 L268.20,243.47 L269.06,242.79 L269.92,242.07 L270.78,241.30 L271.64,240.49 L272.50,239.64 L273.36,238.73 L274.22,237.71 L275.08,236.50 L275.94,235.13 L276.80,233.63 L277.66,232.03 L278.52,230.36 L279.38,228.65 L280.24,226.93 L281.10,225.23 L281.96,223.43 L282.82,221.52 L283.68,219.54 L284.54,217.51 L285.40,215.47 L286.26,213.46 L287.12,211.51 L287.98,209.65 L288.84,207.92 L289.70,206.19 L290.56,204.44 L291.42,202.72 L292.28,201.05 L293.14,199.48 L294.00,198.05 L294.86,196.78 L295.72,195.72 L296.58,194.83 L297.44,193.99 L298.30,193.20 L299.16,192.45 L300.02,191.75 L300.88,191.09 L301.74,190.47 L302.60,189.90 L303.46,189.37 L304.32,188.88 L305.18,188.44 L306.04,188.04 L306.90,187.68 L307.76,187.36 L308.62,187.05 L309.48,186.77 L310.34,186.49 L311.20,186.24 L312.06,186.00 L312.92,185.78 L313.78,185.57 L314.64,185.37 L315.50,185.19 L316.36,185.02 L317.22,184.86 L318.08,184.71 L318.94,184.57 L319.80,184.43 L320.66,184.30 L321.52,184.17 L322.38,184.05 L323.24,183.92 L324.10,183.81 L324.96,183.69 L325.82,183.58 L326.68,183.48 L327.54,183.38 L328.40,183.28 L329.26,183.19 L330.12,183.10 L330.98,183.02 L331.84,182.94 L332.70,182.87 L333.56,182.81 L334.42,182.75 L335.28,182.69 L336.14,182.64 L337.00,182.60 L337.86,182.55 L338.72,182.51 L339.58,182.47 L340.44,182.43 L341.30,182.39 L342.16,182.36 L343.02,182.32 L343.88,182.29 L344.74,182.26 L345.60,182.23 L346.46,182.20 L347.32,182.18 L348.18,182.15 L349.04,182.12 L349.90,182.10 L350.76,182.08 L351.62,182.06 L352.48,182.04 L353.34,182.02 L354.20,182.00 L355.06,181.98 L355.92,181.96 L356.78,181.94 L357.64,181.92 L358.50,181.90 L359.36,181.89 L360.22,181.87 L361.08,181.86 L361.94,181.84 L362.80,181.82 L363.66,181.81 L364.52,181.80 L365.38,181.78 L366.24,181.77 L367.10,181.76 L367.96,181.75 L368.82,181.74 L369.68,181.73 L370.54,181.73 L371.40,181.72" fill="none" stroke="#2a2a2a" stroke-width="1.45"/>
<rect x="286" y="163.5" width="54" height="14" fill="#fff"/>
<text x="287.60" y="174.90" font-size="12" text-anchor="start" fill="#333333" >Hardness</text>
<rect x="292.3" y="232.5" width="61.7" height="14" fill="#fff"/>
<text x="292.00" y="244.10" font-size="12" text-anchor="start" fill="#333333" >Res. Stress</text>
<line x1="281.50" y1="170.30" x2="268.10" y2="175.10" stroke="#444" stroke-width="0.8" />
<line x1="281.50" y1="170.30" x2="271.00" y2="186.00" stroke="#444" stroke-width="0.8" />
<line x1="286.70" y1="239.20" x2="272.60" y2="222.10" stroke="#444" stroke-width="0.8" />
<line x1="286.70" y1="239.20" x2="280.70" y2="220.90" stroke="#444" stroke-width="0.8" />
<line x1="510.20" y1="181.9" x2="510.20" y2="257.6" stroke="#d9d9d9" stroke-width="1"/>
<line x1="525.27" y1="181.9" x2="525.27" y2="257.6" stroke="#d9d9d9" stroke-width="1"/>
<line x1="540.34" y1="181.9" x2="540.34" y2="257.6" stroke="#d9d9d9" stroke-width="1"/>
<line x1="555.41" y1="181.9" x2="555.41" y2="257.6" stroke="#d9d9d9" stroke-width="1"/>
<line x1="570.48" y1="181.9" x2="570.48" y2="257.6" stroke="#d9d9d9" stroke-width="1"/>
<line x1="585.55" y1="181.9" x2="585.55" y2="257.6" stroke="#d9d9d9" stroke-width="1"/>
<line x1="600.62" y1="181.9" x2="600.62" y2="257.6" stroke="#d9d9d9" stroke-width="1"/>
<line x1="615.69" y1="181.9" x2="615.69" y2="257.6" stroke="#d9d9d9" stroke-width="1"/>
<line x1="630.76" y1="181.9" x2="630.76" y2="257.6" stroke="#d9d9d9" stroke-width="1"/>
<line x1="645.83" y1="181.9" x2="645.83" y2="257.6" stroke="#d9d9d9" stroke-width="1"/>
<line x1="660.90" y1="181.9" x2="660.90" y2="257.6" stroke="#d9d9d9" stroke-width="1"/>
<line x1="510.2" y1="257.60" x2="660.9" y2="257.60" stroke="#d9d9d9" stroke-width="1"/>
<line x1="510.2" y1="250.03" x2="660.9" y2="250.03" stroke="#d9d9d9" stroke-width="1"/>
<line x1="510.2" y1="242.46" x2="660.9" y2="242.46" stroke="#d9d9d9" stroke-width="1"/>
<line x1="510.2" y1="234.89" x2="660.9" y2="234.89" stroke="#d9d9d9" stroke-width="1"/>
<line x1="510.2" y1="227.32" x2="660.9" y2="227.32" stroke="#d9d9d9" stroke-width="1"/>
<line x1="510.2" y1="219.75" x2="660.9" y2="219.75" stroke="#d9d9d9" stroke-width="1"/>
<line x1="510.2" y1="212.18" x2="660.9" y2="212.18" stroke="#d9d9d9" stroke-width="1"/>
<line x1="510.2" y1="204.61" x2="660.9" y2="204.61" stroke="#d9d9d9" stroke-width="1"/>
<line x1="510.2" y1="197.04" x2="660.9" y2="197.04" stroke="#d9d9d9" stroke-width="1"/>
<line x1="510.2" y1="189.47" x2="660.9" y2="189.47" stroke="#d9d9d9" stroke-width="1"/>
<line x1="510.2" y1="181.90" x2="660.9" y2="181.90" stroke="#d9d9d9" stroke-width="1"/>
<text x="499.50" y="261.90" font-size="12" text-anchor="end" fill="#333333" >0</text>
<text x="499.50" y="246.76" font-size="12" text-anchor="end" fill="#333333" >20</text>
<text x="499.50" y="231.62" font-size="12" text-anchor="end" fill="#333333" >40</text>
<text x="499.50" y="216.48" font-size="12" text-anchor="end" fill="#333333" >60</text>
<text x="499.50" y="201.34" font-size="12" text-anchor="end" fill="#333333" >80</text>
<text x="499.50" y="186.20" font-size="12" text-anchor="end" fill="#333333" >100</text>
<text x="510.70" y="277.20" font-size="12" text-anchor="middle" fill="#333333" >250</text>
<text x="540.84" y="277.20" font-size="12" text-anchor="middle" fill="#333333" >300</text>
<text x="570.98" y="277.20" font-size="12" text-anchor="middle" fill="#333333" >350</text>
<text x="601.12" y="277.20" font-size="12" text-anchor="middle" fill="#333333" >400</text>
<text x="631.26" y="277.20" font-size="12" text-anchor="middle" fill="#333333" >450</text>
<text x="661.40" y="277.20" font-size="12" text-anchor="middle" fill="#333333" >500</text>
<text x="576.8" y="290.5" font-size="12" text-anchor="middle" fill="#333333">Torque M<tspan font-size="8" dy="3">1</tspan><tspan dy="-3"> / Nm</tspan></text>
<text transform="translate(470.2,228.2) rotate(-90)" font-size="12" text-anchor="middle" fill="#333333">Prob. P<tspan font-size="8.5" dy="2.6">A,TFF</tspan><tspan dy="-2.6"> / %</tspan></text>
<path d="M521.05,257.46 L521.65,257.44 L522.26,257.41 L522.86,257.38 L523.46,257.34 L524.06,257.30 L524.67,257.26 L525.27,257.20 L525.87,257.15 L526.48,257.08 L527.08,257.00 L527.68,256.92 L528.28,256.82 L528.89,256.72 L529.49,256.60 L530.09,256.47 L530.70,256.32 L531.30,256.16 L531.90,255.98 L532.50,255.78 L533.11,255.56 L533.71,255.31 L534.31,255.05 L534.91,254.76 L535.52,254.45 L536.12,254.10 L536.72,253.73 L537.33,253.33 L537.93,252.89 L538.53,252.42 L539.13,251.92 L539.74,251.38 L540.34,250.80 L540.94,250.18 L541.55,249.52 L542.15,248.82 L542.75,248.07 L543.35,247.29 L543.96,246.46 L544.56,245.59 L545.16,244.67 L545.77,243.72 L546.37,242.71 L546.97,241.67 L547.57,240.58 L548.18,239.46 L548.78,238.29 L549.38,237.08 L549.98,235.84 L550.59,234.57 L551.19,233.26 L551.79,231.92 L552.40,230.56 L553.00,229.17 L553.60,227.76 L554.20,226.33 L554.81,224.88 L555.41,223.42 L556.01,221.96 L556.62,220.49 L557.22,219.01 L557.82,217.54 L558.42,216.08 L559.03,214.62 L559.63,213.17 L560.23,211.74 L560.84,210.33 L561.44,208.94 L562.04,207.58 L562.64,206.24 L563.25,204.93 L563.85,203.66 L564.45,202.42 L565.05,201.21 L565.66,200.04 L566.26,198.92 L566.86,197.83 L567.47,196.79 L568.07,195.78 L568.67,194.83 L569.27,193.91 L569.88,193.04 L570.48,192.21 L571.08,191.43 L571.69,190.68 L572.29,189.98 L572.89,189.32 L573.49,188.70 L574.10,188.12 L574.70,187.58 L575.30,187.08 L575.91,186.61 L576.51,186.17 L577.11,185.77 L577.71,185.40 L578.32,185.05 L578.92,184.74 L579.52,184.45 L580.12,184.19 L580.73,183.94 L581.33,183.72 L581.93,183.52 L582.54,183.34 L583.14,183.18 L583.74,183.03 L584.34,182.90 L584.95,182.78 L585.55,182.68 L586.15,182.58 L586.76,182.50 L587.36,182.42 L587.96,182.35 L588.56,182.30 L589.17,182.24 L589.77,182.20 L590.37,182.16 L590.98,182.12 L591.58,182.09 L592.18,182.06 L592.78,182.04 L593.39,182.02" fill="none" stroke="#f2a326" stroke-width="1.4" stroke-dasharray="1.2 1.5"/>
<path d="M533.11,257.45 L533.71,257.43 L534.31,257.40 L534.91,257.37 L535.52,257.33 L536.12,257.29 L536.72,257.24 L537.33,257.19 L537.93,257.13 L538.53,257.06 L539.13,256.99 L539.74,256.90 L540.34,256.81 L540.94,256.70 L541.55,256.59 L542.15,256.45 L542.75,256.31 L543.35,256.15 L543.96,255.97 L544.56,255.78 L545.16,255.56 L545.77,255.33 L546.37,255.07 L546.97,254.79 L547.57,254.49 L548.18,254.16 L548.78,253.80 L549.38,253.41 L549.98,252.99 L550.59,252.54 L551.19,252.06 L551.79,251.54 L552.40,250.99 L553.00,250.39 L553.60,249.77 L554.20,249.10 L554.81,248.39 L555.41,247.64 L556.01,246.85 L556.62,246.02 L557.22,245.15 L557.82,244.23 L558.42,243.28 L559.03,242.28 L559.63,241.25 L560.23,240.17 L560.84,239.06 L561.44,237.91 L562.04,236.72 L562.64,235.50 L563.25,234.24 L563.85,232.96 L564.45,231.65 L565.05,230.31 L565.66,228.95 L566.26,227.57 L566.86,226.17 L567.47,224.76 L568.07,223.34 L568.67,221.91 L569.27,220.47 L569.88,219.03 L570.48,217.59 L571.08,216.16 L571.69,214.74 L572.29,213.33 L572.89,211.93 L573.49,210.55 L574.10,209.19 L574.70,207.85 L575.30,206.54 L575.91,205.26 L576.51,204.00 L577.11,202.78 L577.71,201.59 L578.32,200.44 L578.92,199.33 L579.52,198.25 L580.12,197.22 L580.73,196.22 L581.33,195.27 L581.93,194.35 L582.54,193.48 L583.14,192.65 L583.74,191.86 L584.34,191.11 L584.95,190.40 L585.55,189.73 L586.15,189.11 L586.76,188.51 L587.36,187.96 L587.96,187.44 L588.56,186.96 L589.17,186.51 L589.77,186.09 L590.37,185.70 L590.98,185.34 L591.58,185.01 L592.18,184.71 L592.78,184.43 L593.39,184.17 L593.99,183.94 L594.59,183.72 L595.19,183.53 L595.80,183.35 L596.40,183.19 L597.00,183.05 L597.61,182.91 L598.21,182.80 L598.81,182.69 L599.41,182.60 L600.02,182.51 L600.62,182.44 L601.22,182.37 L601.83,182.31 L602.43,182.26 L603.03,182.21 L603.63,182.17 L604.24,182.13 L604.84,182.10 L605.44,182.07 L606.05,182.05 L606.65,182.03" fill="none" stroke="#0b5aa6" stroke-width="1.4" stroke-dasharray="1.2 1.5"/>
<path d="M527.68,257.44 L528.28,257.41 L528.89,257.38 L529.49,257.35 L530.09,257.31 L530.70,257.27 L531.30,257.22 L531.90,257.16 L532.50,257.10 L533.11,257.03 L533.71,256.95 L534.31,256.86 L534.91,256.76 L535.52,256.65 L536.12,256.52 L536.72,256.38 L537.33,256.23 L537.93,256.06 L538.53,255.88 L539.13,255.67 L539.74,255.45 L540.34,255.20 L540.94,254.94 L541.55,254.64 L542.15,254.33 L542.75,253.98 L543.35,253.61 L543.96,253.21 L544.56,252.77 L545.16,252.31 L545.77,251.80 L546.37,251.27 L546.97,250.70 L547.57,250.09 L548.18,249.44 L548.78,248.75 L549.38,248.02 L549.98,247.25 L550.59,246.44 L551.19,245.59 L551.79,244.70 L552.40,243.76 L553.00,242.79 L553.60,241.77 L554.20,240.71 L554.81,239.62 L555.41,238.49 L556.01,237.32 L556.62,236.11 L557.22,234.87 L557.82,233.61 L558.42,232.31 L559.03,230.98 L559.63,229.63 L560.23,228.26 L560.84,226.87 L561.44,225.47 L562.04,224.05 L562.64,222.62 L563.25,221.19 L563.85,219.75 L564.45,218.31 L565.05,216.88 L565.66,215.45 L566.26,214.03 L566.86,212.63 L567.47,211.24 L568.07,209.87 L568.67,208.52 L569.27,207.19 L569.88,205.89 L570.48,204.63 L571.08,203.39 L571.69,202.18 L572.29,201.01 L572.89,199.88 L573.49,198.79 L574.10,197.73 L574.70,196.71 L575.30,195.74 L575.91,194.80 L576.51,193.91 L577.11,193.06 L577.71,192.25 L578.32,191.48 L578.92,190.75 L579.52,190.06 L580.12,189.41 L580.73,188.80 L581.33,188.23 L581.93,187.70 L582.54,187.19 L583.14,186.73 L583.74,186.29 L584.34,185.89 L584.95,185.52 L585.55,185.17 L586.15,184.86 L586.76,184.56 L587.36,184.30 L587.96,184.05 L588.56,183.83 L589.17,183.62 L589.77,183.44 L590.37,183.27 L590.98,183.12 L591.58,182.98 L592.18,182.85 L592.78,182.74 L593.39,182.64 L593.99,182.55 L594.59,182.47 L595.19,182.40 L595.80,182.34 L596.40,182.28 L597.00,182.23 L597.61,182.19 L598.21,182.15 L598.81,182.12 L599.41,182.09" fill="none" stroke="#f2a326" stroke-width="1.7"/>
<path d="M552.40,257.40 L553.00,257.37 L553.60,257.33 L554.20,257.29 L554.81,257.24 L555.41,257.18 L556.01,257.11 L556.62,257.04 L557.22,256.95 L557.82,256.86 L558.42,256.75 L559.03,256.63 L559.63,256.49 L560.23,256.34 L560.84,256.17 L561.44,255.98 L562.04,255.77 L562.64,255.54 L563.25,255.28 L563.85,255.00 L564.45,254.69 L565.05,254.35 L565.66,253.98 L566.26,253.58 L566.86,253.14 L567.47,252.67 L568.07,252.15 L568.67,251.60 L569.27,251.01 L569.88,250.37 L570.48,249.69 L571.08,248.96 L571.69,248.19 L572.29,247.37 L572.89,246.51 L573.49,245.59 L574.10,244.63 L574.70,243.61 L575.30,242.56 L575.91,241.45 L576.51,240.30 L577.11,239.10 L577.71,237.86 L578.32,236.58 L578.92,235.26 L579.52,233.90 L580.12,232.51 L580.73,231.09 L581.33,229.63 L581.93,228.16 L582.54,226.66 L583.14,225.14 L583.74,223.61 L584.34,222.07 L584.95,220.52 L585.55,218.98 L586.15,217.43 L586.76,215.89 L587.36,214.36 L587.96,212.84 L588.56,211.34 L589.17,209.87 L589.77,208.41 L590.37,206.99 L590.98,205.60 L591.58,204.24 L592.18,202.92 L592.78,201.64 L593.39,200.40 L593.99,199.20 L594.59,198.05 L595.19,196.94 L595.80,195.89 L596.40,194.87 L597.00,193.91 L597.61,192.99 L598.21,192.13 L598.81,191.31 L599.41,190.54 L600.02,189.81 L600.62,189.13 L601.22,188.49 L601.83,187.90 L602.43,187.35 L603.03,186.83 L603.63,186.36 L604.24,185.92 L604.84,185.52 L605.44,185.15 L606.05,184.81 L606.65,184.50 L607.25,184.22 L607.85,183.96 L608.46,183.73 L609.06,183.52 L609.66,183.33 L610.26,183.16 L610.87,183.01 L611.47,182.87 L612.07,182.75 L612.68,182.64 L613.28,182.55 L613.88,182.46 L614.48,182.39 L615.09,182.32 L615.69,182.26 L616.29,182.21 L616.90,182.17 L617.50,182.13 L618.10,182.10 L618.70,182.07" fill="none" stroke="#0b5aa6" stroke-width="1.7"/>
<text x="526.6" y="162.2" font-size="12" fill="#333333">ΔM<tspan font-size="8" dy="2.6">1,50%;0.4mm</tspan><tspan dy="-2.6"> = 10.5 %</tspan></text>
<text x="526.6" y="176.2" font-size="12" fill="#333333">ΔM<tspan font-size="8" dy="2.6">1,50%;0.3mm</tspan><tspan dy="-2.6"> = 6.5 %</tspan></text>
<line x1="194.7" y1="147.5" x2="685" y2="147.5" stroke="#c4c4c4" stroke-width="1" stroke-dasharray="1.6 1.2"/>
<line x1="454.9" y1="0" x2="454.9" y2="144" stroke="#c4c4c4" stroke-width="1" stroke-dasharray="1.6 1.2"/>
<line x1="454.9" y1="153" x2="454.9" y2="296" stroke="#c4c4c4" stroke-width="1" stroke-dasharray="1.6 1.2"/>
</svg>
</body></html>
